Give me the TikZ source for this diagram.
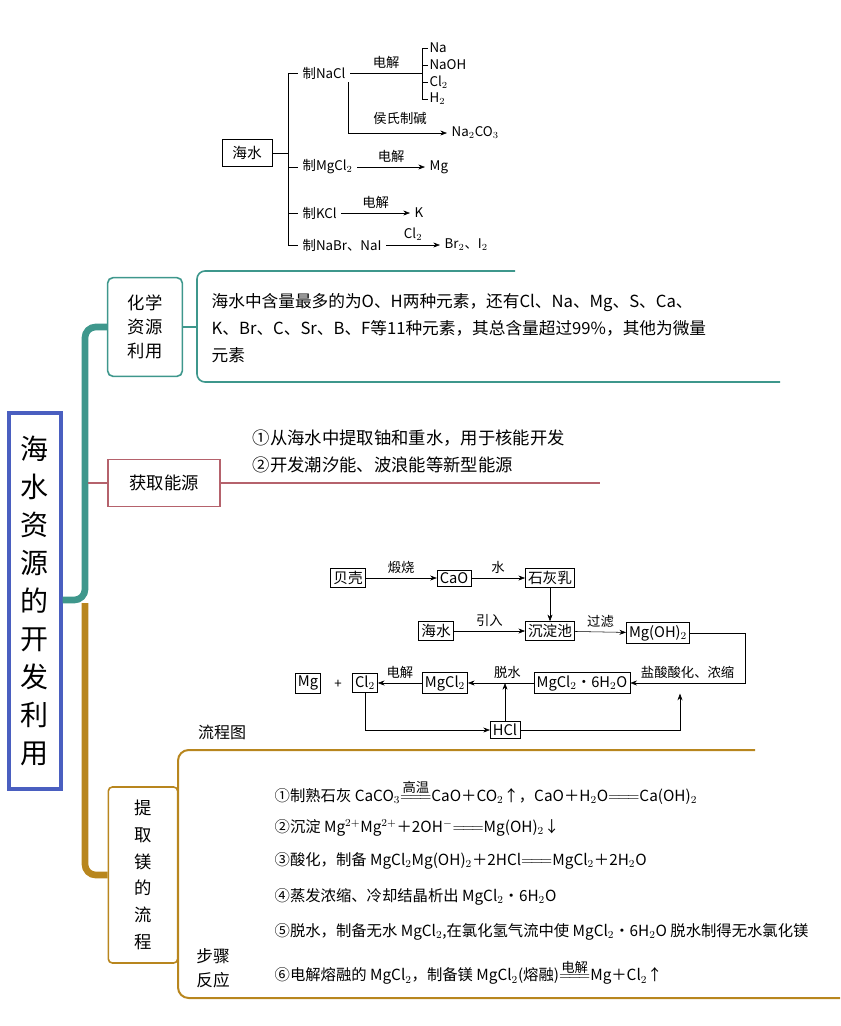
\documentclass[tikz,border=0pt]{standalone}
\usepackage{amsmath}
\usepackage{fontspec}
\setmainfont{Liberation Serif}
\newfontfamily\cjk{Noto Sans CJK SC}
\usetikzlibrary{arrows.meta}
\definecolor{teal1}{HTML}{3E978C}
\definecolor{red1}{HTML}{B5626C}
\definecolor{gold1}{HTML}{B8861E}
\definecolor{blue1}{HTML}{4A5FC0}
\newcommand{\eqq}{$=\!=\!=$}
\begin{document}
\begin{tikzpicture}[x=0.75pt,y=-0.75pt,
  fb/.style={draw,thin,inner sep=2pt,font=\cjk\fontsize{11}{13}\selectfont},
  ar/.style={-{Stealth[length=5pt]},thin},
  tl/.style={font=\cjk\fontsize{10}{12}\selectfont},
  st/.style={anchor=west,font=\cjk\fontsize{11.5}{14}\selectfont},
  every node/.style={font=\cjk}]
\useasboundingbox (0,0) rectangle (841,1026);
% top tree
\node[fb,minimum width=37.5pt,minimum height=20pt] (sw) at (247,153) {海水};
\node[anchor=west,tl] (n1) at (298,73) {制NaCl};
\node[anchor=west,tl] (n2) at (298,167) {制MgCl$_2$};
\node[anchor=west,tl] (n3) at (298,213) {制KCl};
\node[anchor=west,tl] (n4) at (298,245) {制NaBr、NaI};
\draw (sw.east) -- (288,153);
\draw (288,73) -- (298,73) (288,167)--(298,167) (288,213)--(298,213) (288,245)--(298,245) (288,73)--(288,245);
\coordinate (j1) at (422,73);
\draw (n1.east) -- node[above,tl]{电解} (j1);
\draw (j1|-0,48) -- (j1|-0,99);
\foreach \y/\t [count=\i] in {48/Na,65/NaOH,82/Cl$_2$,99/H$_2$}{
 \node[anchor=west,tl,inner sep=1pt] (p\i) at (428,\y) {\t};
 \draw (422,\y) -- (p\i.west);}
\node[anchor=west,tl] (na2) at (447,133) {Na$_2$CO$_3$};
\draw[ar] (348,82) |- (na2.west);
\node[tl] at (400,118) {侯氏制碱};
\node[anchor=west,tl] (mg) at (425,167) {Mg};
\draw[ar] (n2.east) -- node[above,tl]{电解} (mg.west);
\node[anchor=west,tl] (k) at (410,213) {K};
\draw[ar] (n3.east) -- node[above,tl]{电解} (k.west);
\node[anchor=west,tl] (br) at (440,245) {Br$_2$、I$_2$};
\draw[ar] (n4.east) -- node[above,tl]{Cl$_2$} (br.west);
% main
\node[draw=blue1,line width=2.5pt,minimum width=39pt,minimum height=282pt,inner sep=0] (main) at (35,601) {};
\node[font=\cjk\fontsize{21}{28.5}\selectfont,align=center] at (35,601) {海\\水\\资\\源\\的\\开\\发\\利\\用};
% chem
\node[draw=teal1,line width=1.2pt,rounded corners=4pt,minimum width=56pt,minimum height=74pt,align=center,font=\cjk\fontsize{13}{18}\selectfont] (chem) at (145,327) {化学\\资源\\利用};
\draw[teal1,line width=5pt,rounded corners=8pt] (main.east|-0,600) -- (85,600) -- (85,327) -- (chem.west);
\draw[teal1,line width=1.2pt,rounded corners=6pt] (515,271) -- (197,271) -- (197,382) -- (780,382);
\draw[teal1,line width=1.2pt] (chem.east) -- (197,327);
\node[anchor=north west,align=left,font=\cjk\fontsize{12.5}{20}\selectfont,text width=420pt] (ct) at (207,289) {海水中含量最多的为O、H两种元素，还有Cl、Na、Mg、S、Ca、\\K、Br、C、Sr、B、F等11种元素，其总含量超过99\%，其他为微量\\元素};
% energy
\node[draw=red1,line width=1.2pt,minimum width=84pt,minimum height=35pt,font=\cjk\fontsize{13}{16}\selectfont] (en) at (164,483) {获取能源};
\draw[red1,line width=1.2pt] (88,483) -- (en.west);
\draw[red1,line width=1.2pt] (en.east) -- (600,483);
\node[anchor=west,font=\cjk\fontsize{13}{16}\selectfont] at (248,438) {①从海水中提取铀和重水，用于核能开发};
\node[anchor=west,font=\cjk\fontsize{13}{16}\selectfont] at (248,465) {②开发潮汐能、波浪能等新型能源};
% mg process
\node[draw=gold1,line width=1.2pt,rounded corners=3pt,minimum width=52pt,minimum height=132pt,align=center,font=\cjk\fontsize{13}{20}\selectfont] (mgp) at (143,875) {提\\取\\镁\\的\\流\\程};
\draw[gold1,line width=5pt,rounded corners=8pt] (85,603) -- (85,875) -- (mgp.west);
\draw[gold1,line width=1.5pt,rounded corners=8pt] (755,750) -- (178,750) -- (178,998) -- (840,998);
\node[font=\cjk\fontsize{12}{14}\selectfont] at (222,732) {流程图};
\node[font=\cjk\fontsize{12.5}{18}\selectfont,align=left] at (213,968) {步骤\\反应};
% flowchart
\node[fb] (bk) at (348,578) {贝壳};
\node[fb] (cao) at (454,578) {CaO};
\node[fb] (shr) at (550,578) {石灰乳};
\node[fb] (hs) at (436,631) {海水};
\node[fb] (cdc) at (550,631) {沉淀池};
\node[fb] (moh) at (658,633) {Mg(OH)$_2$};
\node[fb] (mg2) at (308,683) {Mg};
\node at (338,684) {+};
\node[fb] (cl2) at (365,683) {Cl$_2$};
\node[fb] (mgcl) at (445,683) {MgCl$_2$};
\node[fb] (mgh) at (582,683) {MgCl$_2$·6H$_2$O};
\node[fb] (hcl) at (505,730) {HCl};
\coordinate (hu) at (680,0);
\draw[ar] (bk) -- node[above,tl]{煅烧} (cao);
\draw[ar] (cao) -- node[above,tl]{水} (shr);
\draw[ar] (shr) -- (cdc);
\draw[ar] (hs) -- node[above,tl]{引入} (cdc);
\draw[ar] (cdc) -- node[above,tl]{过滤} (moh);
\draw[ar] (moh.east) -- (745,633) |- node[pos=0.75,above,tl]{盐酸酸化、浓缩} (mgh.east);
\draw[ar] (mgh) -- node[above,tl,pos=0.4]{脱水} (mgcl);
\draw[ar] (mgcl) -- node[above,tl]{电解} (cl2);
\draw[ar] (cl2.south) |- (hcl.west);
\draw[ar] (hcl.north) -- (505,683);
\draw[ar] (hcl.east) -| (hu|-mgh.south);
% steps
\begin{scope}[every node/.style={st}]
\node (s1) at (270,792) {①制熟石灰 CaCO$_3$$\overset{\text{\cjk\fontsize{10}{10}\selectfont 高温}}{=\!=\!=}$CaO＋CO$_2$↑，CaO＋H$_2$O\eqq Ca(OH)$_2$};
\node (s2) at (270,828) {②沉淀 Mg$^{2+}$Mg$^{2+}$＋2OH$^{-}$\eqq Mg(OH)$_2$↓};
\node (s3) at (270,861) {③酸化，制备 MgCl$_2$Mg(OH)$_2$＋2HCl\eqq MgCl$_2$＋2H$_2$O};
\node (s4) at (270,897) {④蒸发浓缩、冷却结晶析出 MgCl$_2$·6H$_2$O};
\node (s5) at (270,932) {⑤脱水，制备无水 MgCl$_2$,在氯化氢气流中使 MgCl$_2$·6H$_2$O 脱水制得无水氯化镁};
\node (s6) at (270,972) {⑥电解熔融的 MgCl$_2$，制备镁 MgCl$_2$(熔融)$\overset{\text{\cjk\fontsize{10}{10}\selectfont 电解}}{=\!=\!=}$Mg＋Cl$_2$↑};
\end{scope}
\end{tikzpicture}
\end{document}
